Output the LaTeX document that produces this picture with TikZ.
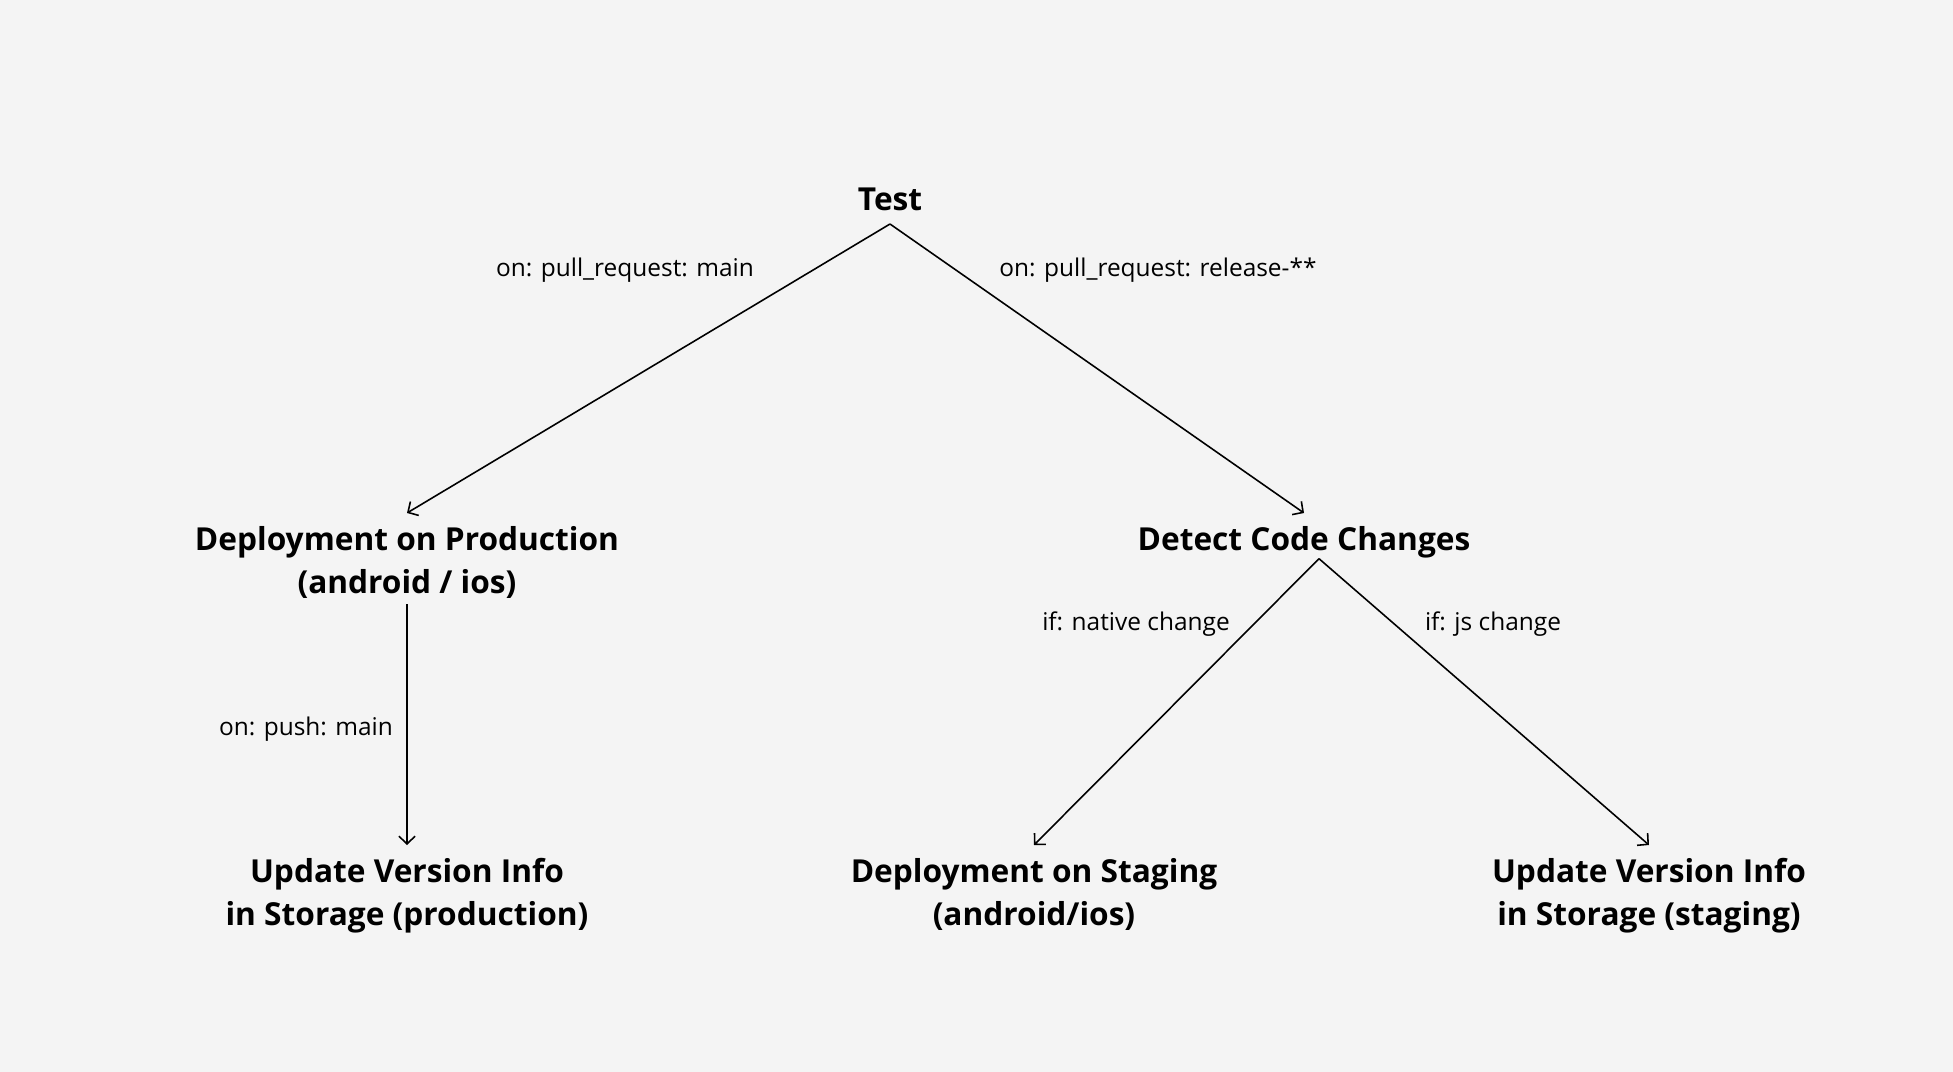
\documentclass[tikz,border=0pt]{standalone}
\usepackage{fontspec}
\setmainfont{Open Sans}
\usetikzlibrary{arrows.meta}
\definecolor{canvas}{RGB}{244,244,244}

\begin{document}
\begin{tikzpicture}[x=0.01cm, y=-0.01cm,
      job/.style={inner sep=3.5pt, align=center, font=\fontsize{9}{12.4}\selectfont\bfseries}, % Bloques del flujo
      cond/.style={inner sep=0pt, font=\fontsize{6.95}{8}\selectfont},
      flow/.style={-{Straight Barb[length=2.2pt, width=4.6pt]}, line width=0.45pt}
    ]
    \fill[canvas] (0,0) rectangle (1953,1072);
    \useasboundingbox (0,0) rectangle (1953,1072);
    % Jobs
    \node [job, anchor=south] (test) at (890,224) {Test};
    \node [job, anchor=north] (prod) at (407,513) {Deployment on Production\\(android / ios)};
    \node [job, anchor=north] (detect) at (1304,513) {Detect Code Changes};
    \node [job, anchor=north] (infoprod) at (407,845) {Update Version Info\\in Storage (production)};
    \node [job, anchor=north] (staging) at (1034,845) {Deployment on Staging\\(android/ios)};
    \node [job, anchor=north] (infostaging) at (1649,845) {Update Version Info\\in Storage (staging)};
    % Triggers
    \node [cond] (onmain) at (625,270) {on: pull\_request: main};
    \node [cond] (onrelease) at (1158,270) {on: pull\_request: release-**};
    \node [cond] (onpush) at (306,729) {on: push: main};
    \node [cond] (ifnative) at (1136,624) {if: native change};
    \node [cond] (ifjs) at (1493,624) {if: js change};
    % Edges
    \draw [flow] (test.south) -- (prod.north);
    \draw [flow] (test.south) -- (detect.north);
    \draw [flow] ([yshift=0.075cm]prod.south) -- (infoprod.north);
    \draw [flow] ([xshift=0.15cm, yshift=0.12cm]detect.south) -- (staging.north);
    \draw [flow] ([xshift=0.15cm, yshift=0.12cm]detect.south) -- (infostaging.north);
    \end{tikzpicture}
\end{document}
